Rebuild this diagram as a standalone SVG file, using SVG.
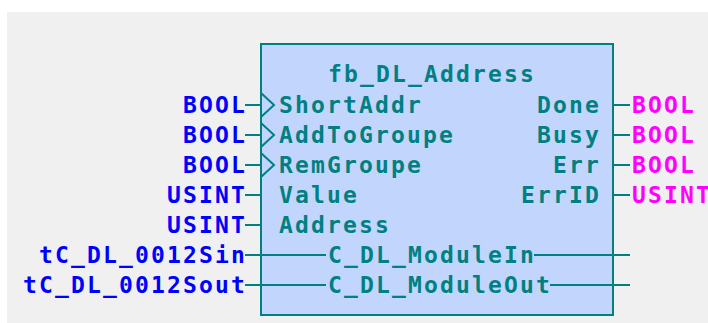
<svg xmlns="http://www.w3.org/2000/svg" width="708" height="323" viewBox="0 0 708 323">
  <style>
    text { font-family: "DejaVu Sans Mono", "Liberation Mono", monospace; font-weight: bold; font-size: 23px; letter-spacing: 2.15px; }
    .pin { fill: #008080; }
    .in { fill: #0000FF; }
    .out { fill: #FF00FF; }
    .wire { stroke: #008080; stroke-width: 2; fill: none; }
  </style>
  <rect x="0" y="0" width="708" height="323" fill="#FFFFFF"/>
  <rect x="7" y="12" width="701" height="311" fill="#F0F0F0"/>

  <!-- function block -->
  <g id="fb_DL_Address">
    <rect x="261" y="44" width="352" height="271" fill="#C2D6FD" stroke="#008080" stroke-width="2"/>
    <text class="pin" x="328" y="82">fb_DL_Address</text>
    <path class="wire" stroke-width="1.5" d="M261 93L274 105L261 117M261 123L274 135L261 147M261 153L274 165L261 177"/>
    <text class="pin" x="279" y="112.5">ShortAddr</text>
    <text class="pin" x="279" y="142.5">AddToGroupe</text>
    <text class="pin" x="279" y="172.5">RemGroupe</text>
    <text class="pin" x="279" y="202.5">Value</text>
    <text class="pin" x="279" y="232.5">Address</text>
    <text class="pin" x="328" y="262.5">C_DL_ModuleIn</text>
    <text class="pin" x="328" y="292.5">C_DL_ModuleOut</text>
    <text class="pin" x="537" y="112.5">Done</text>
    <text class="pin" x="537" y="142.5">Busy</text>
    <text class="pin" x="553" y="172.5">Err</text>
    <text class="pin" x="521" y="202.5">ErrID</text>
  </g>

  <!-- connectors -->
  <g id="connectors">
    <path class="wire" d="M245 105H261M245 135H261M245 165H261M245 195H261M245 225H261"/>
    <path class="wire" d="M613 105H630M613 135H630M613 165H630M613 195H630"/>
    <path class="wire" d="M245 255H326M534 255H630"/>
    <path class="wire" d="M245 285H326M550 285H630"/>
  </g>

  <!-- input variables -->
  <g id="inputs">
    <text class="in" x="183" y="112.5">BOOL</text>
    <text class="in" x="183" y="142.5">BOOL</text>
    <text class="in" x="183" y="172.5">BOOL</text>
    <text class="in" x="167" y="202.5">USINT</text>
    <text class="in" x="167" y="232.5">USINT</text>
    <text class="in" x="39" y="262.5">tC_DL_0012Sin</text>
    <text class="in" x="23" y="292.5">tC_DL_0012Sout</text>
  </g>

  <!-- output variables -->
  <g id="outputs">
    <text class="out" x="632" y="112.5">BOOL</text>
    <text class="out" x="632" y="142.5">BOOL</text>
    <text class="out" x="632" y="172.5">BOOL</text>
    <text class="out" x="632" y="202.5">USINT</text>
  </g>
</svg>
